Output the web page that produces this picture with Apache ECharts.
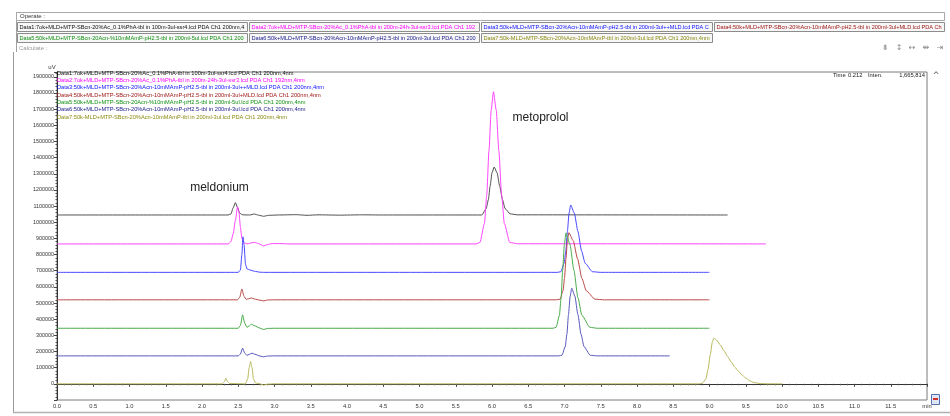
<!DOCTYPE html>
<html>
<head>
<meta charset="utf-8">
<script src="https://cdn.jsdelivr.net/npm/echarts@6/dist/echarts.min.js"></script>
<style>html,body{margin:0;padding:0;background:#fff;}#main{width:950px;height:416px;}</style>
</head>
<body>
<div id="main"></div>
<script>
// ---- data (time in min, intensity in uV) ----
const seriesNames = [
  'Data1:7ok+MLD+MTP-SBcn-20%Ac_0.1%PhA-tbl in 100m-3ul-ssr4.lcd PDA Ch1 200nm,4nm',
  'Data2:7ok+MLD+MTP-SBcn-20%Ac_0.1%PhA-tbl in 200m-24h-3ul-ssr3.lcd PDA Ch1 192nm,4nm',
  'Data3:50k+MLD+MTP-SBcn-20%Acn-10mMAmP-pH2.5-tbl in 200ml-3ul++MLD.lcd PDA Ch1 200nm,4nm',
  'Data4:50k+MLD+MTP-SBcn-20%Acn-10mMAmP-pH2.5-tbl in 200ml-3ul+MLD.lcd PDA Ch1 200nm,4nm',
  'Data5:50k+MLD+MTP-SBcn-20Acn-%10mMAmP-pH2.5-tbl in 200ml-5ul.lcd PDA Ch1 200nm,4nm',
  'Data6:50k+MLD+MTP-SBcn-20%Acn-10mMAmP-pH2.5-tbl in 200ml-3ul.lcd PDA Ch1 200nm,4nm',
  'Data7:50k-MLD+MTP-SBcn-20%Acn-10mMAmP-tbl in 200ml-3ul.lcd PDA Ch1 200nm,4nm'
];
const data1 = [[0,1045000],[1.5,1045000],[2.36,1045000],[2.40,1052000],[2.43,1090000],[2.46,1122000],[2.49,1092000],[2.52,1056000],[2.56,1046000],[2.66,1045000],[2.72,1051000],[2.78,1044000],[2.85,1037000],[2.92,1043000],[3.05,1045000],[3.3,1047000],[3.45,1043000],[3.6,1046000],[3.9,1044000],[4.2,1046000],[4.5,1045000],[5.86,1045000],[5.92,1085000],[5.95,1140000],[5.975,1226000],[6.0,1306000],[6.03,1342000],[6.07,1306000],[6.105,1226000],[6.145,1140000],[6.18,1085000],[6.25,1052000],[6.35,1046000],[9.25,1045000]];
const data2 = [[0,866000],[1.9,866000],[2.36,866000],[2.40,880000],[2.43,930000],[2.46,1010000],[2.49,1096000],[2.51,1060000],[2.53,970000],[2.55,900000],[2.58,873000],[2.62,866000],[2.72,876000],[2.78,868000],[2.85,853000],[2.9,862000],[2.97,868000],[3.1,868000],[3.2,866000],[5.78,866000],[5.834,875000],[5.896,993000],[5.927,1167000],[5.958,1441000],[5.989,1695000],[6.02,1808000],[6.058,1695000],[6.095,1441000],[6.133,1167000],[6.17,993000],[6.245,875000],[6.35,867000],[9.78,866000]];
const data3 = [[0,690000],[2.50,690000],[2.53,705000],[2.55,800000],[2.565,910000],[2.58,860000],[2.60,740000],[2.62,712000],[2.66,705000],[2.72,697000],[2.8,691000],[2.85,690000],[6.9,690000],[6.95,694000],[6.995,746000],[7.018,823000],[7.04,944000],[7.063,1057000],[7.085,1107000],[7.135,1057000],[7.185,944000],[7.235,823000],[7.285,746000],[7.385,694000],[7.5,690000],[9.0,690000]];
const data4 = [[0,520000],[2.49,520000],[2.52,535000],[2.55,587000],[2.58,540000],[2.61,523000],[2.64,526000],[2.68,532000],[2.72,525000],[2.8,518000],[2.85,513000],[2.9,519000],[3.0,520000],[6.88,520000],[6.94,524000],[6.98,576000],[7.0,653000],[7.02,774000],[7.04,886000],[7.06,936000],[7.12,886000],[7.18,774000],[7.24,653000],[7.3,576000],[7.42,524000],[7.55,520000],[9.0,520000]];
const data5 = [[0,344000],[2.50,344000],[2.53,362000],[2.56,427000],[2.59,375000],[2.62,350000],[2.65,358000],[2.68,369000],[2.72,360000],[2.8,345000],[2.85,336000],[2.9,343000],[3.0,344000],[6.84,344000],[6.885,350000],[6.93,424000],[6.953,533000],[6.975,704000],[6.998,863000],[7.02,934000],[7.075,863000],[7.13,704000],[7.185,533000],[7.24,424000],[7.35,350000],[7.45,344000],[9.0,344000]];
const data6 = [[0,173000],[2.50,173000],[2.53,185000],[2.56,221000],[2.59,190000],[2.62,176000],[2.65,182000],[2.69,190000],[2.73,183000],[2.8,172000],[2.85,167000],[2.9,172000],[3.0,173000],[6.92,173000],[6.965,177000],[7.01,230000],[7.033,307000],[7.055,429000],[7.078,542000],[7.1,592000],[7.143,542000],[7.185,429000],[7.228,307000],[7.27,230000],[7.355,177000],[7.45,173000],[8.45,173000]];
const data7 = [[0,0],[1.05,0],[2.28,0],[2.31,15000],[2.33,35000],[2.35,15000],[2.38,2000],[2.6,0],[2.63,30000],[2.65,100000],[2.67,138000],[2.69,100000],[2.71,30000],[2.74,5000],[2.8,0],[2.85,-8000],[2.9,-2000],[3.0,0],[8.85,0],[8.9,3000],[8.95,30000],[8.98,90000],[9.01,180000],[9.04,260000],[9.06,283000],[9.1,270000],[9.15,240000],[9.2,205000],[9.25,169000],[9.3,135000],[9.35,103000],[9.4,77000],[9.45,55000],[9.5,36000],[9.55,20000],[9.6,10000],[9.65,5000],[9.7,2000],[9.8,0],[10.0,0]];
const allData = [data1, data2, data3, data4, data5, data6, data7];
const xTickUnitLabel = 'min';
const yUnitLabel = 'uV';
const peakLabels = ['meldonium', 'metoprolol'];
const cursorInfo = ['Time', '0.212', 'Inten.', '1,665,814'];

// ---- styles ----
const lineColors = ['#505050', '#ff44ff', '#4848ff', '#bb4848', '#48aa48', '#5858bb', '#b8b85c'];
const textColors = ['#111111', '#ff00ff', '#1010ff', '#a01818', '#109010', '#202090', '#8a8a10'];
const uiFont = '"Liberation Sans", Arial, sans-serif';

const chart = echarts.init(document.getElementById('main'));

const graphics = [];
// window / panel chrome
graphics.push({type:'line', shape:{x1:13.5,y1:52,x2:13.5,y2:412}, style:{stroke:'#9a9a9a', lineWidth:1}, silent:true});
graphics.push({type:'line', shape:{x1:13,y1:412.5,x2:950,y2:412.5}, style:{stroke:'#b0b0b0', lineWidth:1.5}, silent:true});
graphics.push({type:'line', shape:{x1:16.5,y1:12,x2:16.5,y2:52}, style:{stroke:'#a0a0a0', lineWidth:1}, silent:true});
graphics.push({type:'rect', shape:{x:16.5,y:12.5,width:928,height:8}, style:{fill:'#fff', stroke:'#a8a8a8', lineWidth:1}, silent:true});
graphics.push({type:'text', style:{text:'Operate :', x:20, y:16.5, fill:'#333', font:'6px '+uiFont, verticalAlign:'middle', textVerticalAlign:'middle'}, silent:true});
graphics.push({type:'text', style:{text:'Calculate :', x:19, y:48, fill:'#999', font:'6px '+uiFont, verticalAlign:'middle', textVerticalAlign:'middle'}, silent:true});

const btnPos = [[17,22,230],[249,22,230],[481,22,231],[714,22,230],[17,33,230],[249,33,230],[481,33,231]];
btnPos.forEach((p, i) => {
  graphics.push({type:'rect', shape:{x:p[0]+0.5,y:p[1]+0.5,width:p[2],height:9}, style:{fill:'#f7f7f7', stroke:'#8c8c8c', lineWidth:1}, silent:true});
  graphics.push({type:'text', style:{text:seriesNames[i], x:p[0]+2.5, y:p[1]+5, width:p[2]-3, overflow:'truncate', ellipsis:'', fill:textColors[i], font:'5.6px '+uiFont, verticalAlign:'middle', textVerticalAlign:'middle'}, silent:true});
});

// toolbar glyphs
const glyphs = ['⇟','↕','↔','⇹','⇥'];
const glyphX = [885, 899, 912, 926, 940];
glyphs.forEach((g, i) => {
  graphics.push({type:'text', style:{text:g, x:glyphX[i], y:48, fill:'#8a8a8a', font:'8px "DejaVu Sans"', align:'center', textAlign:'center', verticalAlign:'middle', textVerticalAlign:'middle'}, silent:true});
});
graphics.push({type:'text', style:{text:'^', x:936, y:76, fill:'#555', font:'8px "DejaVu Sans"', align:'center', textAlign:'center', verticalAlign:'middle', textVerticalAlign:'middle'}, silent:true});
graphics.push({type:'rect', shape:{x:931.5,y:394.5,width:8,height:10}, style:{fill:'#dfe6f4', stroke:'#5570b0', lineWidth:1}, silent:true});
graphics.push({type:'rect', shape:{x:933,y:398,width:5,height:2}, style:{fill:'#d03030'}, silent:true});

// unit label
graphics.push({type:'text', style:{text:yUnitLabel, x:52, y:67, fill:'#333', font:'6px '+uiFont, align:'center', textAlign:'center', verticalAlign:'middle', textVerticalAlign:'middle'}, silent:true});

// cursor info
graphics.push({type:'text', style:{text:cursorInfo[0], x:833, y:75.5, fill:'#222', font:'5.8px '+uiFont, verticalAlign:'middle', textVerticalAlign:'middle'}, silent:true});
graphics.push({type:'text', style:{text:cursorInfo[1], x:848, y:75.5, fill:'#222', font:'5.8px '+uiFont, verticalAlign:'middle', textVerticalAlign:'middle'}, silent:true});
graphics.push({type:'text', style:{text:cursorInfo[2], x:868, y:75.5, fill:'#222', font:'5.8px '+uiFont, verticalAlign:'middle', textVerticalAlign:'middle'}, silent:true});
graphics.push({type:'text', style:{text:cursorInfo[3], x:925, y:75.5, fill:'#222', font:'5.8px '+uiFont, align:'right', textAlign:'right', verticalAlign:'middle', textVerticalAlign:'middle'}, silent:true});

// peak labels
graphics.push({type:'text', style:{text:peakLabels[0], x:219.5, y:187.5, fill:'#222', font:'12px '+uiFont, align:'center', textAlign:'center', verticalAlign:'middle', textVerticalAlign:'middle'}, silent:true});
graphics.push({type:'text', style:{text:peakLabels[1], x:540.5, y:118, fill:'#222', font:'12px '+uiFont, align:'center', textAlign:'center', verticalAlign:'middle', textVerticalAlign:'middle'}, silent:true});

const option = {
  animation: false,
  backgroundColor: '#ffffff',
  grid: {left:57, right:23, top:72, bottom:16, show:true, borderColor:'#7a7a7a', borderWidth:1, backgroundColor:'#fff', containLabel:false},
  legend: {
    show: true, orient: 'vertical', left: 52, top: 69.6, padding: 0, itemGap: 0,
    itemWidth: 0, itemHeight: 7.3, icon: 'none', selectedMode: false,
    textStyle: {fontSize: 5.7, fontFamily: uiFont, lineHeight: 7.3, padding: 0},
    data: seriesNames.map((n, i) => ({name: n, textStyle: {color: textColors[i]}}))
  },
  xAxis: {
    type: 'value', min: 0, max: 12, interval: 0.5,
    axisLine: {show: true, lineStyle: {color: '#333', width: 1}},
    axisTick: {show: true, length: 3, lineStyle: {color: '#444'}},
    minorTick: {show: true, splitNumber: 5, length: 1.5, lineStyle: {color: '#555'}},
    splitLine: {show: false},
    axisLabel: {fontSize: 5.8, fontFamily: uiFont, color: '#333', margin: 3,
      formatter: v => (Math.abs(v - 12) < 1e-9 ? xTickUnitLabel : v.toFixed(1))}
  },
  yAxis: {
    type: 'value', min: -100000, max: 1930000, interval: 100000,
    axisLine: {show: true, lineStyle: {color: '#333', width: 1}},
    axisTick: {show: true, length: 3, lineStyle: {color: '#444'}},
    minorTick: {show: true, splitNumber: 5, length: 1.5, lineStyle: {color: '#555'}},
    splitLine: {show: false},
    axisLabel: {fontSize: 5.4, fontFamily: uiFont, color: '#333', margin: 3, showMaxLabel: false,
      formatter: v => (v < 0 || v > 1900000 ? '' : String(v))}
  },
  graphic: graphics,
  series: allData.map((d, i) => ({
    name: seriesNames[i], type: 'line', data: d, showSymbol: false, symbol: 'none',
    lineStyle: {color: lineColors[i], width: 1}, itemStyle: {color: lineColors[i]},
    smooth: 0.2, smoothMonotone: 'x', silent: true, z: 2
  }))
};
chart.setOption(option);
</script>
</body>
</html>
